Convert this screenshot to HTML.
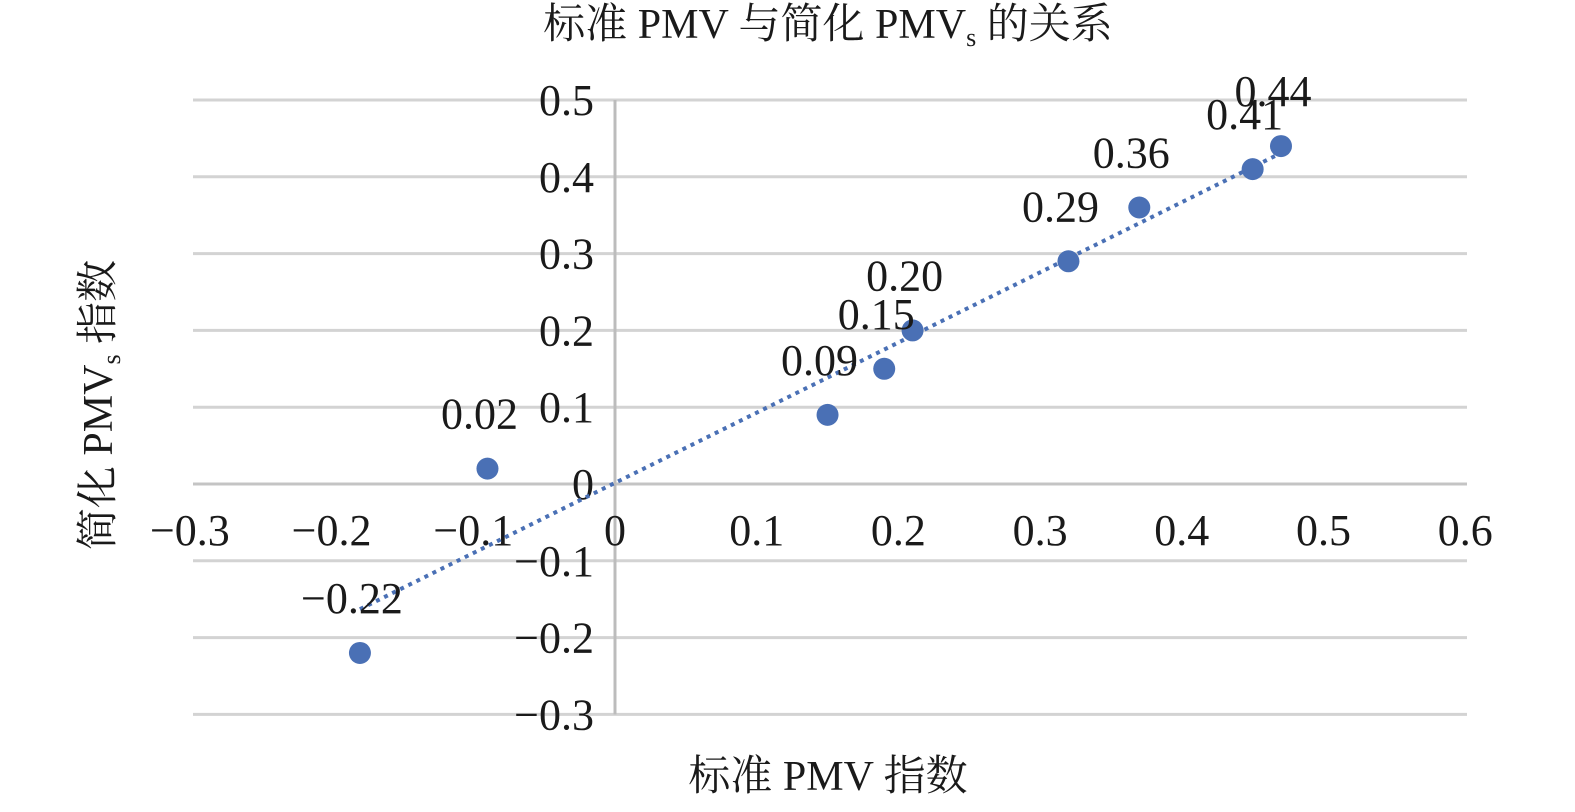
<!DOCTYPE html>
<html><head><meta charset="utf-8"><style>
body{margin:0;background:#fff}
svg{display:block}
text{font-family:"Liberation Serif","Noto Serif CJK SC",serif;fill:#1a1a1a}
</style></head><body>
<svg width="1575" height="812" viewBox="0 0 1575 812">
<text x="828" y="38" font-size="42" text-anchor="middle">标准 PMV 与简化 PMV<tspan font-size="26" dy="8">s</tspan><tspan dy="-8"> 的关系</tspan></text>
<g id="grid"></g>
<g id="ticks"></g>
<g id="trend"></g>
<g id="pts"></g>
<g id="lbls"></g>
<text x="828" y="790" font-size="42" text-anchor="middle">标准 PMV 指数</text>
<text transform="translate(112,405) rotate(-90)" font-size="42" text-anchor="middle">简化 PMV<tspan font-size="26" dy="8">s</tspan><tspan dy="-8"> 指数</tspan></text>
</svg>
<script>
const xVals=[-0.18,-0.09,0.15,0.19,0.21,0.32,0.37,0.45,0.47];
const yVals=[-0.22,0.02,0.09,0.15,0.20,0.29,0.36,0.41,0.44];
const pointLabels=["−0.22","0.02","0.09","0.15","0.20","0.29","0.36","0.41","0.44"];
const xTicks=[-0.3,-0.2,-0.1,0,0.1,0.2,0.3,0.4,0.5,0.6];
const xTickLabels=["−0.3","−0.2","−0.1","0","0.1","0.2","0.3","0.4","0.5","0.6"];
const yTicks=[0.5,0.4,0.3,0.2,0.1,0,-0.1,-0.2,-0.3];
const yTickLabels=["0.5","0.4","0.3","0.2","0.1","0","−0.1","−0.2","−0.3"];
const NS="http://www.w3.org/2000/svg";
const X=v=>615+v*1417, Y=v=>484-v*768;
function mk(t,a,p){const e=document.createElementNS(NS,t);for(const k in a)e.setAttribute(k,a[k]);p.appendChild(e);return e;}
const grid=document.getElementById('grid'),ticks=document.getElementById('ticks');
yTicks.forEach((v,i)=>{
 const l=mk('line',{x1:193,x2:1467,y1:Y(v),y2:Y(v),stroke:v===0?'#c4c4c4':'#d3d3d3','stroke-width':3},grid);
 
 
 const t=mk('text',{x:594,y:Y(v)+15,'font-size':44,'text-anchor':'end'},ticks);
 t.textContent=yTickLabels[i];
 
 
});
const ax=mk('line',{x1:X(0),x2:X(0),y1:Y(0.5),y2:Y(-0.3),stroke:'#bcbcbc','stroke-width':3},grid);


xTicks.forEach((v,i)=>{
 const t=mk('text',{x:X(v),y:545,'font-size':44,'text-anchor':'middle'},ticks);
 t.textContent=xTickLabels[i];
 
 
});
// least-squares trendline
const n=xVals.length,mx=xVals.reduce((a,b)=>a+b)/n,my=yVals.reduce((a,b)=>a+b)/n;
let sxy=0,sxx=0;xVals.forEach((x,i)=>{sxy+=(x-mx)*(yVals[i]-my);sxx+=(x-mx)*(x-mx);});
const m=sxy/sxx,b=my-m*mx,x0=Math.min(...xVals),x1=Math.max(...xVals);
const tl=mk('line',{x1:X(x0),y1:Y(m*x0+b),x2:X(x1),y2:Y(m*x1+b),stroke:'#4a70b5','stroke-width':4,'stroke-dasharray':'4 5'},document.getElementById('trend'));


xVals.forEach((x,i)=>{
 const c=mk('circle',{cx:X(x),cy:Y(yVals[i]),r:11,fill:'#4a70b5'},document.getElementById('pts'));
 
 
 const t=mk('text',{x:X(x)-8,y:Y(yVals[i])-40,'font-size':44,'text-anchor':'middle'},document.getElementById('lbls'));
 t.textContent=pointLabels[i];
 
 
});
</script>
</body></html>
